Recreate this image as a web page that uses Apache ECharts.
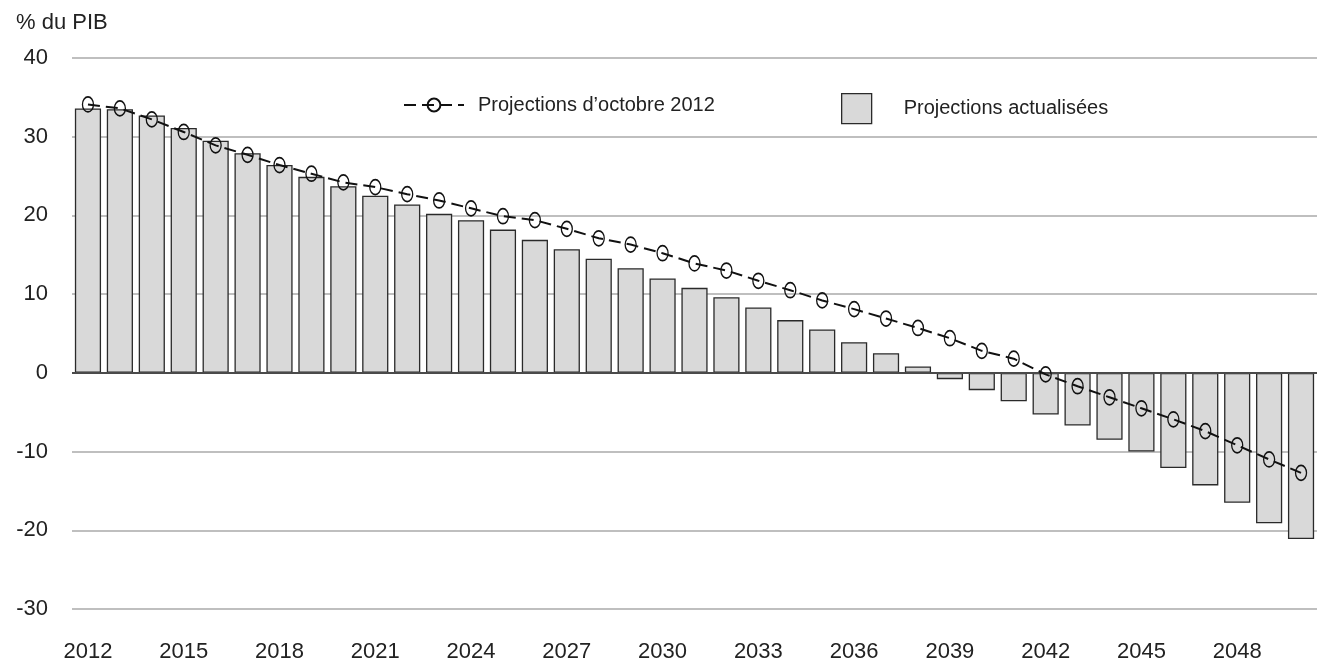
<!DOCTYPE html>
<html>
<head>
<meta charset="utf-8">
<script src="https://cdn.jsdelivr.net/npm/echarts@6/dist/echarts.min.js"></script>
<style>
html,body{margin:0;padding:0;background:#fff;}
#chart{width:1317px;height:666px;}
</style>
</head>
<body>
<div id="chart"></div>
<script>
const years = ['2012','2013','2014','2015','2016','2017','2018','2019','2020','2021','2022','2023','2024','2025','2026','2027','2028','2029','2030','2031','2032','2033','2034','2035','2036','2037','2038','2039','2040','2041','2042','2043','2044','2045','2046','2047','2048','2049','2050'];
const updated = [33.6,33.5,32.7,31.1,29.5,27.9,26.4,24.9,23.7,22.5,21.4,20.2,19.4,18.2,16.9,15.7,14.5,13.3,12.0,10.8,9.6,8.3,6.7,5.5,3.9,2.5,0.8,-0.8,-2.2,-3.6,-5.3,-6.7,-8.5,-10.0,-12.1,-14.3,-16.5,-19.1,-21.1];
const october2012 = [34.1,33.6,32.2,30.6,28.9,27.7,26.4,25.3,24.2,23.6,22.7,21.9,20.9,19.9,19.4,18.3,17.1,16.3,15.2,13.9,13.0,11.7,10.5,9.2,8.1,6.9,5.7,4.4,2.8,1.8,-0.2,-1.7,-3.1,-4.5,-5.9,-7.4,-9.2,-11.0,-12.7];
const yTicks = {min: -30, max: 40, interval: 10};
const unitLabel = '% du PIB';
const nameLine = 'Projections d\u2019octobre 2012';
const nameBar = 'Projections actualisées';

const FONT = '"Liberation Sans", Arial, Helvetica, sans-serif';
const chart = echarts.init(document.getElementById('chart'));
chart.setOption({
  animation: false,
  backgroundColor: '#fff',
  textStyle: {fontFamily: FONT},
  title: {
    text: unitLabel, left: 11, top: 7,
    textStyle: {fontFamily: FONT, fontSize: 22, fontWeight: 'normal', color: '#222'}
  },
  legend: [
    {
      data: [nameLine], left: 398, top: 90, itemWidth: 60, itemHeight: 16,
      textStyle: {fontFamily: FONT, fontSize: 20, color: '#222', padding: [0,0,0,9]}
    },
    {
      data: [{name: nameBar, icon: 'rect'}], left: 836, top: 88, itemWidth: 30, itemHeight: 30,
      itemStyle: {borderColor: '#2a2a2a', borderWidth: 1.3},
      textStyle: {fontFamily: FONT, fontSize: 20, color: '#222', padding: [0,0,0,27]}
    }
  ],
  grid: {left: 72, right: 0, top: 58, bottom: 57, containLabel: false},
  xAxis: {
    type: 'category', data: years,
    axisLine: {show: false, onZero: false},
    axisTick: {show: false},
    axisLabel: {interval: 2, margin: 32, fontSize: 22, color: '#222', fontFamily: FONT},
    splitLine: {show: false}
  },
  yAxis: {
    type: 'value', min: yTicks.min, max: yTicks.max, interval: yTicks.interval,
    axisLine: {show: false}, axisTick: {show: false},
    axisLabel: {margin: 24, fontSize: 22, color: '#222', fontFamily: FONT},
    splitLine: {lineStyle: {color: '#aaa', width: 1.5}}
  },
  series: [
    {
      name: nameBar, type: 'bar', data: updated,
      barCategoryGap: '18%',
      itemStyle: {color: '#d9d9d9', borderColor: '#2a2a2a', borderWidth: 1.3},
      markLine: {
        silent: true, symbol: ['none','none'], label: {show: false},
        lineStyle: {color: '#4a4a4a', width: 2, type: 'solid'},
        data: [{yAxis: 0}], z: 3
      },
      z: 2
    },
    {
      name: nameLine, type: 'line', data: october2012,
      symbol: 'circle', symbolSize: [11, 15], showAllSymbol: true,
      lineStyle: {color: '#111', width: 2, type: [12, 6]},
      itemStyle: {color: 'rgba(255,255,255,0)', borderColor: '#111', borderWidth: 1.5},
      z: 5
    }
  ]
});
</script>
</body>
</html>
